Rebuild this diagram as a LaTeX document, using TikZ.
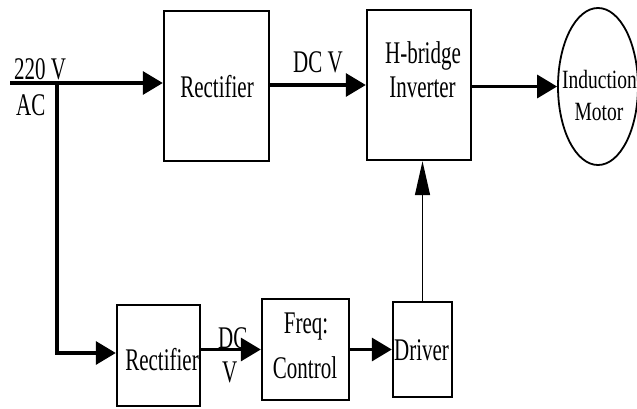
\documentclass[tikz,border=0pt]{standalone}
\usepackage{fontspec}
\setmainfont{Liberation Serif}
\usetikzlibrary{arrows.meta,shapes.geometric}
\newcommand\sx[1]{\scalebox{1}[1.5]{#1}}
\newcommand\sm[1]{\scalebox{1}[1.35]{#1}}
\tikzset{
  box/.style={draw, line width=2.4pt, inner sep=0pt},
  txt/.style={inner sep=0pt, anchor=base, font=\fontsize{21}{24}\selectfont},
  lbl/.style={inner sep=0pt, anchor=base west, font=\fontsize{21}{24}\selectfont},
  thick arrow/.style={line width=3.4pt, -{Triangle[length=20pt,width=23pt]}},
  thin arrow/.style={line width=1.4pt, -{Triangle[length=34pt,width=15pt]}},
}
\begin{document}
\begin{tikzpicture}[x=1pt,y=-1pt]
\useasboundingbox (0,0) rectangle (637,408);
% boxes
\node[box, minimum width=105pt, minimum height=150pt] (rect1) at (216.5,86) {};
\node[box, minimum width=104pt, minimum height=150pt] (hb) at (419,85) {};
\node[draw, line width=1.8pt, ellipse, inner sep=0pt, minimum width=80pt, minimum height=157pt] (mot) at (598,86.5) {};
\node[box, minimum width=83pt, minimum height=101pt] (rect2) at (158.5,355.5) {};
\node[box, minimum width=87pt, minimum height=101pt] (freq) at (305.5,349.5) {};
\node[box, minimum width=59pt, minimum height=95pt] (drv) at (422.5,349.5) {};
% texts
\node[txt] (t1) at (217,97) {\sx{Rectifier}};
\node[txt] (t2) at (423,63) {\sx{H-bridge}};
\node[txt] (t3) at (422.5,97) {\sx{Inverter}};
\node[txt, font=\fontsize{19.5}{22}\selectfont] (t4) at (599.5,88) {\sm{Induction}};
\node[txt, font=\fontsize{19.5}{22}\selectfont] (t5) at (599,120) {\sm{Motor}};
\node[txt] (t6) at (162,370) {\sx{Rectifier}};
\node[txt] (t7) at (306,333) {\sx{Freq:}};
\node[txt] (t8) at (305,378) {\sx{Control}};
\node[txt] (t9) at (421.5,360) {\sx{Driver}};
% labels
\node[lbl] (l1) at (14,79) {\sx{220 V}};
\node[lbl] (l2) at (16,115) {\sx{AC}};
\node[lbl] (l3) at (293,72) {\sx{DC V}};
\node[lbl] (l4) at (218,348) {\sx{DC}};
\node[lbl] (l5) at (222,382) {\sx{V}};
% connectors
\coordinate (in) at (10,83);
\coordinate (j) at (57,83);
\draw[thick arrow] (in) -- (in -| rect1.west);
\draw[thick arrow] (rect1.east |- 0,85) -- (hb.west |- 0,85);
\draw[thick arrow] (hb.east |- mot.west) -- (mot.west);
\draw[thick arrow] ([yshift=-1.7pt]j) -- (57,353) -- (rect2.west |- 0,353);
\draw[thick arrow] (rect2.east |- freq.west) -- (freq.west);
\draw[thick arrow] (freq.east) -- (drv.west);
\draw[thin arrow] (drv.north) -- (drv.north |- hb.south);
\end{tikzpicture}
\end{document}
